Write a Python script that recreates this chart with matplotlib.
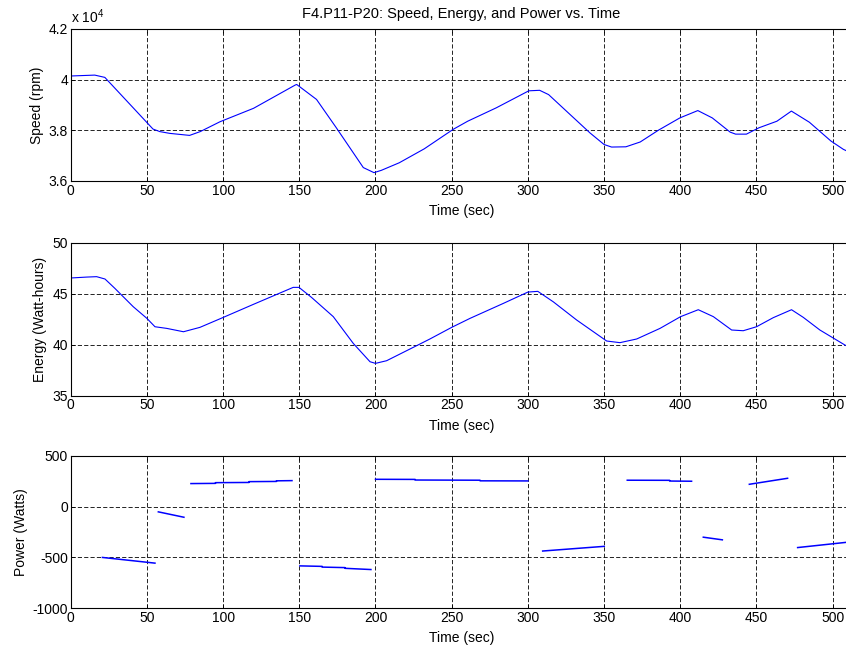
"""F4.P11-P20: speed, energy and power of the flywheel vs. time."""
import matplotlib
matplotlib.use("Agg")
import matplotlib.pyplot as plt
from matplotlib.ticker import FuncFormatter

plt.rcParams["font.family"] = ["Liberation Sans", "DejaVu Sans"]
plt.rcParams["mathtext.fontset"] = "custom"
plt.rcParams["mathtext.rm"] = "Liberation Sans"
plt.rcParams["font.size"] = 10

# speed trace (time in s, speed in rpm)
speed_t = [0, 15.8, 22.4, 54, 58.5, 65, 78, 85, 98, 120, 147.4, 148.3, 161.3,
           174.3, 192, 199, 203.8, 215.6, 232, 251, 260.5, 279.3, 300.6, 307.7,
           313.6, 326.5, 340.7, 350, 354.9, 364.3, 373.7, 385.5, 399.7, 411.5,
           421, 432.7, 436.3, 443.4, 451.6, 463.4, 472.9, 484.7, 498.8, 507, 513]
speed_rpm = [40145, 40180, 40090, 38050, 37950, 37880, 37800, 37950, 38340,
             38870, 39790, 39810, 39220, 38100, 36530, 36330, 36420, 36720,
             37270, 38040, 38360, 38890, 39560, 39580, 39410, 38690, 37900,
             37440, 37340, 37350, 37540, 38000, 38490, 38780, 38490, 37930,
             37850, 37850, 38100, 38360, 38760, 38320, 37580, 37250, 37080]

# stored energy (Wh)
energy_t = [0, 10.5, 17, 22.5, 29, 41, 50, 55.3, 63, 74, 84.8, 99.7, 119.8, 146,
            149.8, 158, 172.3, 185.4, 196.4, 200, 207.3, 229.2, 235.7, 250, 262,
            283.9, 300, 306.5, 316.7, 332, 351.7, 360.4, 371.4, 386.7, 400.2,
            411.8, 421.7, 433.7, 441.3, 450, 461, 473, 480.7, 491.6, 508, 513]
energy_wh = [46.54, 46.63, 46.67, 46.44, 45.52, 43.73, 42.58, 41.76, 41.6, 41.27,
             41.7, 42.65, 43.95, 45.62, 45.62, 44.64, 42.75, 40.13, 38.33, 38.17,
             38.43, 40.07, 40.56, 41.7, 42.58, 44.05, 45.16, 45.23, 44.2, 42.42,
             40.36, 40.2, 40.56, 41.6, 42.75, 43.43, 42.75, 41.44, 41.37, 41.76,
             42.65, 43.43, 42.68, 41.44, 39.97, 39.6]

# power: one short trace per charge / discharge step
power_segments = [
    ([20.8, 55.3], [-500, -556]),
    ([57.5, 74.3], [-52, -105]),
    ([78.9, 95, 95, 117, 117, 135, 135, 145.2], [226, 228, 235, 237, 245, 247, 253, 255]),
    ([150.4, 165, 165, 180, 180, 197], [-583, -588, -595, -600, -607, -619]),
    ([200, 226, 226, 268.6, 268.6, 300], [268, 267, 261, 259, 253, 252]),
    ([309.7, 350.1], [-437, -391]),
    ([365.2, 393, 393, 407.4], [259, 258, 251, 249]),
    ([415.1, 427.6], [-301, -327]),
    ([445.3, 470.4], [219, 278]),
    ([477, 513], [-403, -345]),
]

W, H = 846, 649
fig = plt.figure(figsize=(W / 100, H / 100), dpi=100)
left, right = 70.7, 852.5


def make_axes(top_px, bottom_px):
    return fig.add_axes([left / W, 1 - bottom_px / H, (right - left) / W,
                         (bottom_px - top_px) / H])


ax1 = make_axes(29, 181)
ax2 = make_axes(242.7, 395.7)
ax3 = make_axes(455.7, 608.3)

line_kw = dict(color="#0000ff", linewidth=0.8)
ax1.plot(speed_t, speed_rpm, **line_kw)
ax2.plot(energy_t, energy_wh, **line_kw)
for st, sp in power_segments:
    ax3.plot(st, sp, color="#0000ff", linewidth=1.1)

ax1.set_ylim(36000, 42000)
ax1.set_yticks([36000, 38000, 40000, 42000])
ax2.set_ylim(35, 50)
ax2.set_yticks([35, 40, 45, 50])
ax3.set_ylim(-1000, 500)
ax3.set_yticks([-1000, -500, 0, 500])

labels = ["Speed (rpm)", "Energy (Watt-hours)", "Power (Watts)"]
label_x = [-0.034, -0.030, -0.055]
scales = [1e4, 1, 1]
for ax, lab, lx, sc in zip([ax1, ax2, ax3], labels, label_x, scales):
    ax.set_xlim(0, 513)
    ax.set_xticks(range(0, 501, 50))
    ax.yaxis.set_major_formatter(FuncFormatter(lambda v, p, sc=sc: f"{v / sc:g}"))
    ax.tick_params(direction="in", length=3, width=0.6, top=True, right=True,
                   labelsize=10, pad=2, colors="black")
    ax.grid(True, color="black", linestyle=(0, (5, 2.6)), linewidth=0.6)
    for s in ax.spines.values():
        s.set_linewidth(0.8)
    ax.set_xlabel("Time (sec)")
    ax.xaxis.set_label_coords(0.5, -0.15)
    ax.set_ylabel(lab)
    ax.yaxis.set_label_coords(lx, 0.5)

ax1.set_title("F4.P11-P20: Speed, Energy, and Power vs. Time", pad=8, fontsize=10.5)
ax1.text(0.0, 1.02, r"x 10$^{4}$", transform=ax1.transAxes, ha="left",
         va="bottom", fontsize=10)

fig.savefig("out.png", dpi=100)
